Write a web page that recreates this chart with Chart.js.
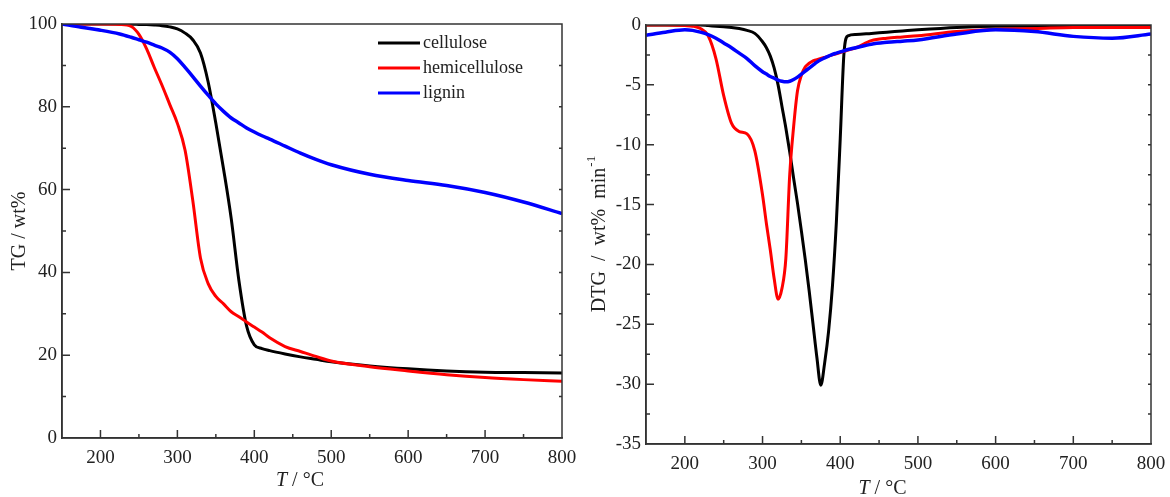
<!DOCTYPE html>
<html lang="en">
<head>
  <meta charset="UTF-8" />
  <title>TG / DTG curves</title>
  <script src="https://cdn.jsdelivr.net/npm/chart.js"></script>
  <style>
    body { margin: 0; background: #fff; }
    .panel { position: absolute; top: 0; height: 497px; }
    #left { left: 0; width: 580px; }
    #right { left: 580px; width: 590px; }
  </style>
</head>
<body>
  <div class="panel" id="left"><canvas id="tgChart"></canvas></div>
  <div class="panel" id="right"><canvas id="dtgChart"></canvas></div>

  <script>
    // temperature grid (°C) and readings for the TG panel
    const tgTemps = [150, 175, 200, 225, 240, 250, 260, 270, 280, 290, 300, 310, 320, 330, 340, 350, 360, 370, 380, 390,
      400, 410, 420, 440, 460, 480, 500, 550, 600, 650, 700, 750, 800];
    const tgCellulose = [100, 100, 100, 100, 99.95, 99.9, 99.85, 99.75, 99.6, 99.3, 98.8, 97.8, 96.2, 93.0, 86, 76, 65, 53, 38, 27,
      22.5, 21.6, 21.1, 20.3, 19.6, 19.0, 18.4, 17.4, 16.7, 16.2, 15.9, 15.8, 15.7];
    const tgHemicellulose = [100, 100, 100, 99.9, 99.4, 97.5, 94, 89.5, 85.2, 80.6, 76, 69.5, 57.4, 43.5, 37.3, 34.2, 32.4, 30.5, 29.3, 28,
      26.8, 25.6, 24.2, 22.1, 20.9, 19.7, 18.6, 17.2, 16.2, 15.3, 14.6, 14.1, 13.7];
    const tgLignin = [100, 99.2, 98.5, 97.6, 96.8, 96.2, 95.6, 94.9, 94.2, 93.2, 91.6, 89.5, 87.3, 85, 82.8, 80.7, 78.9, 77.3, 76.1, 74.9,
      73.9, 73, 72.2, 70.5, 68.8, 67.3, 66, 63.7, 62.2, 61, 59.3, 57, 54.2];

    // temperature grid (°C) and readings for the DTG panel
    const dtgTemps = [150, 175, 200, 210, 220, 230, 240, 250, 260, 270, 280, 290, 300, 305, 310, 315, 320, 325, 330, 335,
      340, 345, 350, 355, 360, 365, 370, 375, 380, 385, 390, 395, 400, 405, 410, 420, 440, 460, 480, 500,
      550, 600, 650, 700, 750, 800];
    const dtgCellulose = [0, 0, 0, 0, 0, -0.05, -0.1, -0.15, -0.2, -0.3, -0.45, -0.7, -1.4, -1.9, -2.6, -3.6, -5.0, -6.8, -8.6, -10.6,
      -12.8, -14.9, -17.2, -19.6, -22.2, -25, -27.8, -30.1, -28.2, -25.6, -21.8, -16.5, -9.5, -2.2, -0.9, -0.8, -0.7, -0.6, -0.5, -0.4,
      -0.2, -0.1, -0.1, -0.1, -0.1, -0.1];
    const dtgHemicellulose = [0, 0, -0.05, -0.1, -0.3, -0.9, -2.8, -5.9, -8.2, -8.9, -9.1, -10.5, -14.2, -16.6, -18.8, -21.2, -22.9, -22.0, -19.5, -12.5,
      -8.5, -5.5, -4.2, -3.5, -3.2, -3.0, -2.9, -2.8, -2.7, -2.6, -2.5, -2.4, -2.3, -2.2, -2.1, -1.9, -1.3, -1.1, -1.0, -0.9,
      -0.55, -0.35, -0.3, -0.2, -0.2, -0.2];
    const dtgLignin = [-0.85, -0.6, -0.4, -0.45, -0.6, -0.8, -1.1, -1.5, -1.9, -2.35, -2.8, -3.4, -3.9, -4.1, -4.3, -4.45, -4.6, -4.7, -4.75, -4.7,
      -4.55, -4.35, -4.1, -3.85, -3.6, -3.35, -3.1, -2.9, -2.75, -2.6, -2.45, -2.35, -2.25, -2.15, -2.05, -1.9, -1.6, -1.45, -1.35, -1.25,
      -0.75, -0.4, -0.55, -0.95, -1.1, -0.75];

    const seriesNames = ['cellulose', 'hemicellulose', 'lignin'];
    const seriesColors = ['#000000', '#ff0000', '#0000ff'];
    const xTickValues = [200, 300, 400, 500, 600, 700, 800];
    const tgTickValues = [0, 20, 40, 60, 80, 100];
    const dtgTickValues = [-35, -30, -25, -20, -15, -10, -5, 0];

    const SERIF = "'Liberation Serif', 'Times New Roman', serif";

    const pts = (xs, ys) => xs.map((x, i) => ({ x: x, y: ys[i] }));

    function makeSets(xs, lists) {
      return lists.map((ys, i) => ({
        label: seriesNames[i],
        data: pts(xs, ys),
        borderColor: seriesColors[i],
        borderWidth: i === 2 ? 3.5 : 3,
        pointRadius: 0,
        fill: false,
        cubicInterpolationMode: 'monotone',
        order: i === 0 ? 2 : (i === 1 ? 1 : 0)
      }));
    }

    // box, inward ticks, axis titles, legend
    const framePlugin = {
      id: 'frame',
      afterDraw(chart, args, o) {
        const { ctx, chartArea: a, scales: { x, y } } = chart;
        ctx.save();
        ctx.strokeStyle = '#333';
        ctx.lineWidth = 1.5;
        ctx.strokeRect(a.left, a.top, a.right - a.left, a.bottom - a.top);

        const xs = x.ticks.map(t => t.value);
        const xStep = xs[1] - xs[0];
        for (let v = xs[0] - xStep / 2; v <= x.max + 1e-6; v += xStep / 2) {
          if (v <= x.min || v >= x.max) continue;
          const major = xs.some(m => Math.abs(m - v) < 1e-6);
          const px = x.getPixelForValue(v);
          ctx.beginPath();
          ctx.moveTo(px, a.bottom);
          ctx.lineTo(px, a.bottom - (major ? 8 : 4));
          ctx.stroke();
        }
        const ys = y.ticks.map(t => t.value);
        const yStep = ys[1] - ys[0];
        for (let v = ys[0]; v <= y.max + 1e-6; v += yStep / 2) {
          if (v <= y.min || v >= y.max) continue;
          const major = ys.some(m => Math.abs(m - v) < 1e-6);
          const py = y.getPixelForValue(v);
          ctx.beginPath();
          ctx.moveTo(a.left, py);
          ctx.lineTo(a.left + (major ? 8 : 4), py);
          ctx.moveTo(a.right, py);
          ctx.lineTo(a.right - 3, py);
          ctx.stroke();
        }

        // y title
        ctx.fillStyle = '#222';
        ctx.textBaseline = 'middle';
        ctx.font = '20px ' + SERIF;
        const mainW = ctx.measureText(o.yTitle).width;
        ctx.font = '13px ' + SERIF;
        const supW = o.ySup ? ctx.measureText(o.ySup).width : 0;
        ctx.save();
        ctx.translate(o.yTitleX, (a.top + a.bottom) / 2);
        ctx.rotate(-Math.PI / 2);
        ctx.textAlign = 'left';
        const start = -(mainW + supW) / 2;
        ctx.font = '20px ' + SERIF;
        ctx.fillText(o.yTitle, start, 0);
        if (o.ySup) {
          ctx.font = '13px ' + SERIF;
          ctx.fillText(o.ySup, start + mainW + 1, -8);
        }
        ctx.restore();

        // x title: italic T / °C
        ctx.textAlign = 'left';
        ctx.font = 'italic 20px ' + SERIF;
        const tW = ctx.measureText('T').width;
        ctx.font = '20px ' + SERIF;
        const restW = ctx.measureText(' / °C').width;
        const cx = (a.left + a.right) / 2 + o.xTitleDx;
        let sx = cx - (tW + restW) / 2;
        ctx.font = 'italic 20px ' + SERIF;
        ctx.fillText('T', sx, a.bottom + o.xTitleDy);
        ctx.font = '20px ' + SERIF;
        ctx.fillText(' / °C', sx + tW, a.bottom + o.xTitleDy);

        // legend
        if (o.legend) {
          ctx.font = '18px ' + SERIF;
          chart.data.datasets.forEach((ds, i) => {
            const ly = a.top + 19 + i * 25;
            const lx = a.left + 316;
            ctx.strokeStyle = ds.borderColor;
            ctx.lineWidth = 3;
            ctx.beginPath();
            ctx.moveTo(lx, ly);
            ctx.lineTo(lx + 42, ly);
            ctx.stroke();
            ctx.fillStyle = '#222';
            ctx.fillText(ds.label, lx + 45, ly);
          });
        }
        ctx.restore();
      }
    };

    function makeChart(id, xs, lists, yMin, yMax, yTicks, axisW, axisH, pad, frameOpts) {
      return new Chart(document.getElementById(id), {
        type: 'line',
        data: { datasets: makeSets(xs, lists) },
        options: {
          responsive: true,
          maintainAspectRatio: false,
          animation: false,
          layout: { padding: pad },
          plugins: {
            legend: { display: false },
            tooltip: { enabled: false },
            frame: frameOpts
          },
          scales: {
            x: {
              type: 'linear',
              min: 150,
              max: 800,
              afterBuildTicks: s => { s.ticks = xTickValues.map(v => ({ value: v })); },
              afterFit: s => { s.height = axisH; s.paddingLeft = 0; s.paddingRight = 0; },
              grid: { display: false, drawTicks: false },
              border: { display: true, color: '#333', width: 1.5 },
              ticks: { color: '#222', padding: 9, maxRotation: 0, font: { family: SERIF, size: 19 } }
            },
            y: {
              type: 'linear',
              min: yMin,
              max: yMax,
              afterBuildTicks: s => { s.ticks = yTicks.map(v => ({ value: v })); },
              afterFit: s => { s.width = axisW; s.paddingTop = 0; s.paddingBottom = 0; },
              grid: { display: false, drawTicks: false },
              border: { display: true, color: '#333', width: 1.5 },
              ticks: { color: '#222', padding: 5, font: { family: SERIF, size: 19 } }
            }
          }
        },
        plugins: [framePlugin]
      });
    }

    makeChart('tgChart', tgTemps, [tgCellulose, tgHemicellulose, tgLignin], 0, 100, tgTickValues,
      62, 59, { top: 24, right: 18 },
      { yTitle: 'TG / wt%', ySup: '', yTitleX: 20, xTitleDx: -12, xTitleDy: 43, legend: true });

    makeChart('dtgChart', dtgTemps, [dtgCellulose, dtgHemicellulose, dtgLignin], -35, 0, dtgTickValues,
      66, 53, { top: 25, right: 19 },
      { yTitle: 'DTG  /  wt%  min', ySup: '-1', yTitleX: 20, xTitleDx: -16, xTitleDy: 45, legend: false });
  </script>
</body>
</html>
